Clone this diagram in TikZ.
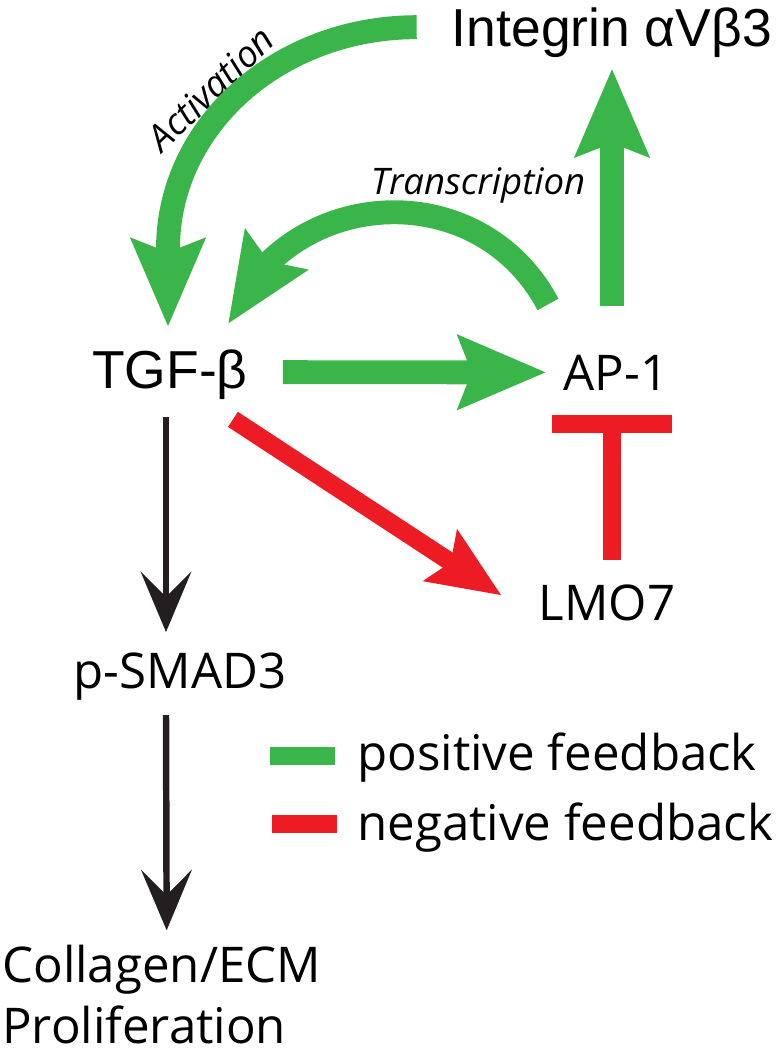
\documentclass[tikz,border=0pt]{standalone}
\usepackage{fontspec}
\setmainfont{Open Sans}
\newfontfamily\arialfont{Liberation Sans}
\usetikzlibrary{arrows.meta,bending,calc}
\definecolor{posgreen}{RGB}{57,181,74}
\definecolor{negred}{RGB}{237,28,36}
\definecolor{inkblack}{RGB}{35,31,32}

\begin{document}
\begin{tikzpicture}[x=0.025cm,y=-0.025cm,
  lbl/.style={inner sep=0,anchor=base,font=\fontsize{35pt}{42pt}\selectfont},
  albl/.style={inner sep=0,anchor=base,font=\arialfont\fontsize{38pt}{45pt}\selectfont},
  note/.style={inner sep=0,anchor=base,font=\itshape\fontsize{26pt}{31pt}\selectfont},
  posarrow/.style={posgreen,line width=17pt,-{Stealth[length=62pt,width=51pt,inset=9pt]}},
  negarrow/.style={negred,line width=12.8pt,-{Stealth[length=51pt,width=42pt,inset=8pt]}},
  negbar/.style={negred,line width=12.8pt,-{Bar[width=85pt]}},
  blackarrow/.style={inkblack,line width=4.6pt,-{Stealth[length=43pt,width=36pt,inset=18pt]}}]
\useasboundingbox (0,0) rectangle (775,1050);

\node[albl] (integrin) at (612,47) {Integrin αVβ3};
\node[albl] (tgf) at (170,388) {TGF-β};
\node[lbl] (ap1) at (616,390) {AP-1};
\node[lbl] (lmo7) at (607,620) {LMO7};
\node[lbl] (smad) at (180,688) {p-SMAD3};
\node[lbl,anchor=base west] (ecm) at (2,982) {Collagen/ECM};
\node[lbl,anchor=base west] (prolif) at (2,1043) {Proliferation};
\node[note] (trans) at (478,195) {Transcription};
\node[note,rotate=44] (act) at (220,98) {Activation};

% feedback loops
\draw[posarrow] ($(tgf.east)+(35,-2)$) -- ($(ap1.west)+(-17,0)$);
\draw[posarrow] ($(ap1.north)+(-4,-48)$) -- ($(integrin.south)+(0,10)$);
\draw[posarrow] ($(integrin.west)+(-35,-6)$) .. controls +(-138,0) and +(0,-123) .. ($(tgf.north)+(-2,-100)$) -- ($(tgf.north)+(-2,-22)$);
\draw[posarrow,-{Stealth[length=62pt,width=51pt,inset=9pt,flex]}] ($(ap1.north)+(-68,-50)$) .. controls +(-70,-132) and +(56,-139) .. ($(tgf.north east)+(-20,-25)$);
\draw[negarrow] ($(tgf.south east)+(-15,20)$) -- ($(lmo7.west)+(-37,-7)$);
\draw[negbar] ($(lmo7.north)+(5,-24)$) -- ($(ap1.south)+(-4,25)$);

% downstream
\draw[blackarrow] ($(tgf.south)+(-4,18)$) -- ($(smad.north)+(-14,-20)$);
\draw[blackarrow] ($(smad.south)+(-14,15)$) -- ($(ecm.north)+(5,-14)$);

% legend
\node[lbl,anchor=base west] (posfb) at (357,770) {positive feedback};
\node[lbl,anchor=base west] (negfb) at (357,840) {negative feedback};
\draw[posgreen,line width=12.8pt] (270,756) -- (335,756);
\draw[negred,line width=12.8pt] (272,824) -- (337,824);
\end{tikzpicture}
\end{document}
